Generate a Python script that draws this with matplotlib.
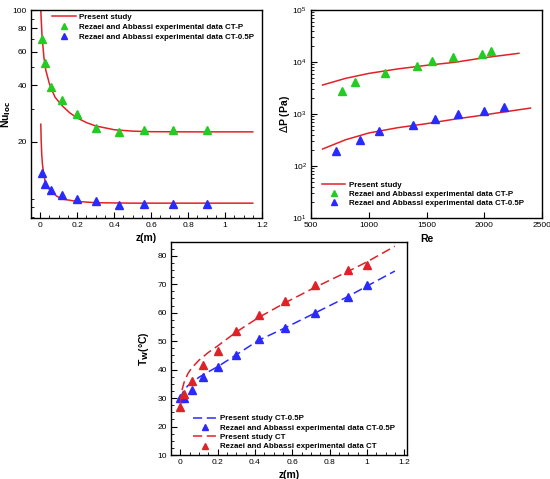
import numpy as np
import matplotlib
matplotlib.use("Agg")
import matplotlib.pyplot as plt
from matplotlib.ticker import FixedLocator, NullFormatter, LogLocator, MultipleLocator, FixedFormatter

plt.rcParams['font.family'] = ['Liberation Sans', 'DejaVu Sans']

# ---------- Panel 1: local Nusselt number ----------
nu_curve_z_p = [0.003, 0.005, 0.01, 0.02, 0.03, 0.05, 0.08, 0.12, 0.16, 0.2, 0.25, 0.3, 0.4, 0.5, 0.6, 0.8, 1.0, 1.15]
nu_curve_p = [100, 90, 72, 56, 48, 40.5, 34.5, 31, 28.5, 26.8, 25.3, 24.3, 23.2, 22.8, 22.65, 22.6, 22.6, 22.6]
nu_curve_z_05p = [0.003, 0.005, 0.008, 0.012, 0.018, 0.027, 0.04, 0.06, 0.09, 0.12, 0.2, 0.3, 0.5, 1.15]
nu_curve_05p = [24.8, 20.5, 17.2, 15.2, 13.7, 12.3, 11.5, 10.9, 10.3, 9.95, 9.67, 9.52, 9.47, 9.47]
nu_exp_z = [0.01, 0.025, 0.06, 0.12, 0.2, 0.3, 0.425, 0.56, 0.72, 0.9]
nu_exp_p = [70, 52.6, 38.9, 33.2, 28.1, 23.7, 22.5, 23.2, 23.2, 23.2]
nu_exp_05p = [13.6, 12.0, 11.1, 10.5, 10.0, 9.74, 9.3, 9.4, 9.4, 9.4]

# ---------- Panel 2: pressure drop ----------
dp_curve_re_p = [600, 800, 1000, 1250, 1500, 1750, 2000, 2300]
dp_curve_p = [3610, 4850, 6030, 7350, 8630, 9900, 12100, 14700]
dp_curve_re_05p = [600, 800, 1000, 1250, 1500, 1750, 2000, 2200, 2400]
dp_curve_05p = [212, 320, 431, 545, 652, 800, 960, 1120, 1300]
dp_exp_re_p = [770, 880, 1140, 1420, 1550, 1730, 1980, 2060]
dp_exp_p = [2770, 4120, 6240, 8260, 10300, 12300, 14500, 16000]
dp_exp_re_05p = [715, 920, 1085, 1385, 1575, 1775, 2000, 2170]
dp_exp_05p = [191, 312, 478, 614, 813, 1000, 1159, 1364]

# ---------- Panel 3: wall temperature ----------
tw_curve_z_05p = [0.0, 0.01, 0.02, 0.04, 0.06, 0.1, 0.15, 0.2, 0.3, 0.42, 0.56, 0.72, 0.9, 1.0, 1.15]
tw_curve_05p = [29.5, 31.5, 32.8, 34.3, 35.3, 37.3, 39.2, 41.0, 45.2, 50.3, 54.6, 59.8, 65.7, 69.3, 74.6]
tw_curve_z_ct = [0.0, 0.005, 0.01, 0.02, 0.04, 0.06, 0.1, 0.15, 0.2, 0.3, 0.42, 0.56, 0.72, 0.9, 1.0, 1.15]
tw_curve_ct = [28, 31, 33, 35.5, 38.5, 40.5, 43.3, 46, 48.3, 53.2, 58.3, 63.4, 68.8, 74.5, 77.8, 83.3]
tw_exp_z = [0.0, 0.02, 0.06, 0.12, 0.2, 0.3, 0.42, 0.56, 0.72, 0.9, 1.0]
tw_exp_05p = [30.1, 29.9, 32.8, 37.5, 41.0, 45.1, 50.6, 54.7, 60.0, 65.6, 69.7]
tw_exp_ct = [27.0, 31.4, 36.1, 41.6, 46.6, 53.7, 59.2, 64.2, 69.7, 75.0, 76.7]

RED = '#e02228'
GREEN = '#22cc22'
BLUE = '#2a2aff'
W, H = 550, 479
TICK_FS = 6
LABEL_FS = 7.5
LEG_FS = 5.7
MS = 5.6

fig = plt.figure(figsize=(W / 100, H / 100), dpi=100)

def ax_at(l, t, r, b):
    return fig.add_axes([l / W, 1 - b / H, (r - l) / W, (b - t) / H])

def style(ax):
    ax.tick_params(which='both', direction='in', top=False, right=False, labelsize=TICK_FS, pad=3)
    ax.tick_params(which='major', length=4, width=0.8)
    ax.tick_params(which='minor', length=2, width=0.6)
    for s in ax.spines.values():
        s.set_linewidth(1.0)

def leg_kw(spacing):
    return dict(frameon=False, prop={'weight': 'bold', 'size': LEG_FS},
                borderpad=0, borderaxespad=0, handlelength=3.0, handletextpad=0.45,
                labelspacing=spacing, markerscale=0.65)

# Panel 1
ax1 = ax_at(31, 10, 262, 218)
ax1.set_yscale('log')
ax1.plot(nu_curve_z_p, nu_curve_p, color=RED, lw=1.1, label='Present study')
ax1.plot(nu_curve_z_05p, nu_curve_05p, color=RED, lw=1.1)
ax1.plot(nu_exp_z, nu_exp_p, '^', color=GREEN, ms=MS, ls='none', label='Rezaei and Abbassi experimental data CT-P')
ax1.plot(nu_exp_z, nu_exp_05p, '^', color=BLUE, ms=MS, ls='none', label='Rezaei and Abbassi experimental data CT-0.5P')
ax1.set_xlim(-0.05, 1.2)
ax1.set_ylim(7.9, 100)
ax1.yaxis.set_major_locator(FixedLocator([20, 40, 60, 80, 100]))
ax1.yaxis.set_major_formatter(FixedFormatter(['20', '40', '60', '80', '100']))
ax1.yaxis.set_minor_locator(FixedLocator([8, 9, 10, 30, 50, 70, 90]))
ax1.yaxis.set_minor_formatter(NullFormatter())
ax1.set_xticks([0, 0.2, 0.4, 0.6, 0.8, 1.0, 1.2])
ax1.set_xticklabels(['0', '0.2', '0.4', '0.6', '0.8', '1', '1.2'])
ax1.xaxis.set_minor_locator(MultipleLocator(0.05))
style(ax1)
ax1.set_xlabel('z(m)', fontsize=LABEL_FS, fontweight='bold')
ax1.set_ylabel(r'Nu$_{\mathbf{loc}}$', fontsize=LABEL_FS, fontweight='bold')
ax1.xaxis.set_label_coords(0.5, -0.072)
ax1.yaxis.set_label_coords(-0.077, 0.5)
ax1.legend(loc='upper left', bbox_to_anchor=(0.091, 0.985), **leg_kw(0.33))

# Panel 2
ax2 = ax_at(311, 10, 542, 218)
ax2.set_yscale('log')
ax2.plot(dp_curve_re_p, dp_curve_p, color=RED, lw=1.1, label='Present study')
ax2.plot(dp_curve_re_05p, dp_curve_05p, color=RED, lw=1.1)
ax2.plot(dp_exp_re_p, dp_exp_p, '^', color=GREEN, ms=MS, ls='none', label='Rezaei and Abbassi experimental data CT-P')
ax2.plot(dp_exp_re_05p, dp_exp_05p, '^', color=BLUE, ms=MS, ls='none', label='Rezaei and Abbassi experimental data CT-0.5P')
ax2.set_xlim(500, 2500)
ax2.set_ylim(10, 1e5)
ax2.xaxis.set_major_locator(MultipleLocator(500))
ax2.yaxis.set_major_locator(LogLocator(base=10, numticks=10))
ax2.yaxis.set_minor_locator(LogLocator(base=10, subs=np.arange(2, 10), numticks=20))
ax2.yaxis.set_minor_formatter(NullFormatter())
style(ax2)
ax2.set_xlabel('Re', fontsize=LABEL_FS, fontweight='bold')
ax2.set_ylabel(r'$\Delta$P (Pa)', fontsize=LABEL_FS, fontweight='bold')
ax2.xaxis.set_label_coords(0.5, -0.078)
ax2.yaxis.set_label_coords(-0.084, 0.5)
ax2.legend(loc='lower left', bbox_to_anchor=(0.046, 0.055), **leg_kw(0.15))

# Panel 3
ax3 = ax_at(171, 242, 407, 455)
ax3.plot(tw_curve_z_05p, tw_curve_05p, color=BLUE, lw=1.1, dashes=(6, 3), label='Present study CT-0.5P')
ax3.plot(tw_exp_z, tw_exp_05p, '^', color=BLUE, ms=MS, ls='none', label='Rezaei and Abbassi experimental data CT-0.5P')
ax3.plot(tw_curve_z_ct, tw_curve_ct, color=RED, lw=1.1, dashes=(6, 3), label='Present study CT')
ax3.plot(tw_exp_z, tw_exp_ct, '^', color=RED, ms=MS, ls='none', label='Rezaei and Abbassi experimental data CT')
ax3.set_xlim(-0.05, 1.215)
ax3.set_ylim(10, 84.8)
ax3.set_xticks([0, 0.2, 0.4, 0.6, 0.8, 1.0, 1.2])
ax3.set_xticklabels(['0', '0.2', '0.4', '0.6', '0.8', '1', '1.2'])
ax3.xaxis.set_minor_locator(MultipleLocator(0.05))
ax3.yaxis.set_major_locator(MultipleLocator(10))
ax3.yaxis.set_minor_locator(MultipleLocator(2.5))
style(ax3)
ax3.set_xlabel('z(m)', fontsize=LABEL_FS, fontweight='bold')
ax3.set_ylabel(r'T$_{\mathbf{W}}$(°C)', fontsize=LABEL_FS, fontweight='bold')
ax3.xaxis.set_label_coords(0.5, -0.070)
ax3.yaxis.set_label_coords(-0.086, 0.5)
ax3.legend(loc='lower left', bbox_to_anchor=(0.093, 0.022), **leg_kw(0.22))

fig.savefig('out.png', dpi=100)
